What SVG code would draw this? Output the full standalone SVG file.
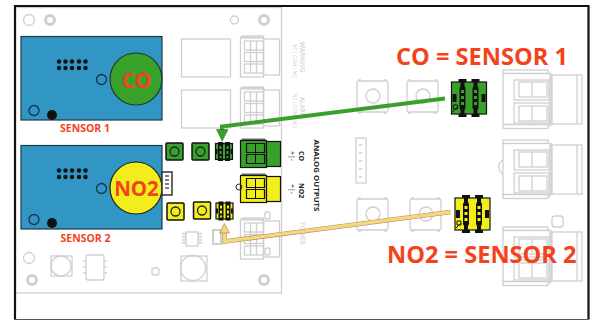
<svg xmlns="http://www.w3.org/2000/svg" width="593" height="320" viewBox="0 0 593 320">
<style>
.g{fill:none;stroke:#cfcfcf;stroke-width:1.3}
.gw{fill:#fff;stroke:#cfcfcf;stroke-width:1.3}
.sb{fill:#3296c4;stroke:#1c3a48;stroke-width:1.2}
.ring{fill:none;stroke:#14344a;stroke-width:1.3}
.blk{fill:#111}
.lbl{font-family:"Open Sans","Liberation Sans",sans-serif;font-weight:700;fill:#f4431c}
.sm{font-family:"Open Sans","Liberation Sans",sans-serif;font-weight:700;fill:#222;font-size:7px}
.lt{font-family:"Open Sans","Liberation Sans",sans-serif;fill:#c9c9c9;font-size:6.5px}
.lt2{font-family:"Open Sans","Liberation Sans",sans-serif;fill:#c9c9c9;font-size:4.6px}
.fg{fill:#39a02c}
.fy{fill:#f1ee1c}
</style>
<defs>
<g id="bigTerm">
<rect class="g" x="0" y="0" width="45" height="3.500"/>
<rect class="gw" x="0" y="3.500" width="48" height="51"/>
<rect class="g" x="0" y="54.500" width="45" height="4"/>
<rect class="gw" x="49" y="5" width="30" height="49"/>
<path class="g" d="M74 5V54M47 3V57" stroke-width="2"/>
<rect class="g" x="11" y="10" width="35" height="20"/>
<rect class="g" x="16" y="12" width="28" height="15"/>
<path class="g" d="M29 12V27"/>
<rect class="g" x="11" y="33" width="35" height="20"/>
<rect class="g" x="16" y="36" width="28" height="15"/>
<path class="g" d="M29 36V51"/>
</g>
<g id="btn">
<rect class="g" x="0" y="1" width="31" height="31" rx="1.500"/>
<path class="g" d="M1 0h3M27 0h3M1 33h3M27 33h3" stroke-width="2"/>
<circle class="g" cx="16" cy="16" r="7"/>
</g>
<g id="sTerm">
<rect class="g" x="0" y="1" width="23" height="40"/>
<rect class="g" x="2" y="0" width="21" height="2"/>
<rect class="g" x="23" y="3" width="16" height="36"/>
<rect class="g" x="4" y="5" width="19" height="9"/>
<rect class="g" x="4" y="16.500" width="19" height="9"/>
<rect class="g" x="4" y="28" width="19" height="9"/>
<path class="g" d="M10 5v32M16 5v32"/>
</g>
<g id="sw">
<rect x="0" y="0" width="17" height="17" rx="1" stroke="#111" stroke-width="1.500"/>
<circle cx="8.500" cy="8.500" r="4.500" fill="none" stroke="#222" stroke-width="1.300"/>
</g>
<g id="jumpL">
<rect x="0" y="1.500" width="17" height="16" stroke="#111" stroke-width="1.200"/>
<path d="M2.500 0h5v19h-5zM9.500 0h5v19h-5z" fill="#111"/>
<path d="M4 4h2v3h-2zM4 9h2v3h-2zM4 14h2v2h-2zM11 4h2v3h-2zM11 9h2v3h-2zM11 14h2v2h-2z"/>
<path d="M0 7h2v5h-2zM15 7h2v5h-2z" fill="#111"/>
</g>
<g id="jumpR">
<rect x="0" y="3" width="35" height="32" stroke="#111" stroke-width="1.200"/>
<path d="M7 0h8v3h-2v4l1 2v20l-1 2v4h2v3h-8v-3h2v-4l-1-2v-20l1-2v-4h-2zM20 0h8v3h-2v4l1 2v20l-1 2v4h2v3h-8v-3h2v-4l-1-2v-20l1-2v-4h-2z" fill="#111"/>
<path d="M9.500 11h3v3h-3zM9.500 17h3v3h-3zM9.500 23h3v3h-3zM22.500 11h3v3h-3zM22.500 17h3v3h-3zM22.500 23h3v3h-3z"/>
<rect x="1" y="15" width="4" height="8" fill="#111"/>
<rect x="30" y="15" width="4" height="8" fill="#111"/>
<path d="M1 33l5-5M2 26h4v4h-4z" stroke="#111" fill="none"/>
</g>
<g id="cTerm">
<rect x="1" y="0" width="24" height="3" fill="#666"/>
<rect x="0" y="2" width="26" height="27" stroke="#111" stroke-width="1.200"/>
<rect x="26" y="3" width="14" height="25" stroke="#111" stroke-width="1.200"/>
<path d="M6 5h18v9h-18zM6 16h18v9h-18z" fill="none" stroke="#111" stroke-width="1.200"/>
<path d="M15 5v20" stroke="#111"/>
</g>
</defs>

<rect id="bg" width="593" height="320" fill="#fff"/>

<g id="board">
<rect class="g" x="15.500" y="7.500" width="266" height="285.500" stroke-width="1.500"/>
<circle class="g" cx="29" cy="20" r="5.500"/>
<circle cx="50" cy="20" r="4.500" fill="#fff" stroke="#cfcfcf" stroke-width="3"/>
<circle class="g" cx="234.500" cy="20" r="4"/>
<circle cx="264" cy="20" r="4.500" fill="#fff" stroke="#cfcfcf" stroke-width="3"/>
<circle class="g" cx="29" cy="258" r="5.500"/>
<circle cx="32" cy="280" r="4.500" fill="#fff" stroke="#cfcfcf" stroke-width="3"/>
<circle cx="264" cy="280" r="4.500" fill="#fff" stroke="#cfcfcf" stroke-width="3"/>
<rect class="g" x="181.500" y="39" width="49" height="38"/>
<rect class="g" x="181.500" y="90" width="49" height="38"/>
<use href="#sTerm" x="240.500" y="36"/>
<use href="#sTerm" x="240.500" y="87"/>
<rect class="g" x="51" y="256" width="21" height="20"/>
<circle class="g" cx="61" cy="266" r="10"/>
<rect class="g" x="86" y="255" width="18" height="25" rx="2"/>
<path class="g" d="M83 261h3M83 267h3M83 273h3M104 261h3M104 267h3M104 273h3"/>
<rect class="g" x="152" y="268" width="7" height="7" rx="2" stroke-width="2"/>
<rect class="g" x="181" y="256" width="26" height="25"/>
<circle class="g" cx="193" cy="268" r="12.500"/>
<rect class="g" x="186" y="232" width="12" height="14"/>
<path class="g" d="M182 234h4M182 237h4M182 240h4M182 243h4M198 234h4M198 237h4M198 240h4M198 243h4"/>
<rect x="213" y="230" width="8" height="14" fill="#fff" stroke="#cfcfcf" stroke-width="2"/>
<use href="#sTerm" x="240.500" y="218"/>
<rect class="g" x="265" y="212" width="5" height="7" rx="2"/>
<rect class="g" x="265" y="248" width="5" height="7" rx="2"/>
<use href="#bigTerm" x="503" y="70"/>
<use href="#bigTerm" x="503" y="140"/>
<use href="#bigTerm" x="503" y="227"/>
<rect class="g" x="552" y="216" width="11" height="11" rx="3"/>
<path class="g" d="M503 160a8 8 0 0 0 0 14"/>
<use href="#btn" x="357" y="80"/>
<use href="#btn" x="407" y="80"/>
<use href="#btn" x="357" y="198"/>
<use href="#btn" x="410" y="198"/>
<rect class="gw" x="356" y="138" width="10" height="45" stroke-width="1.500"/>
<path class="g" d="M359 145h3M359 153h3M359 161h3M359 169h3M359 177h3" stroke-width="2"/>
<text class="lt" transform="translate(299.500 42) rotate(90)">WARNING</text>
<text class="lt2" transform="translate(293 44) rotate(90)">NC | COM | NO</text>
<text class="lt" transform="translate(299.500 97) rotate(90)">ALARM</text>
<text class="lt2" transform="translate(293 94) rotate(90)">NC | COM | NO</text>
<text class="lt" transform="translate(299.500 222) rotate(90)">POWER</text>
</g>

<g id="analog-labels">
<text class="sm" transform="translate(314 139.500) rotate(90) scale(1.120 1)">ANALOG OUTPUTS</text>
<text class="sm" transform="translate(299 151) rotate(90)">CO</text>
<text class="sm" transform="translate(299 183) rotate(90)">NO2</text>
<text class="sm" style="font-weight:400" transform="translate(290 151) rotate(90)">+|-</text>
<text class="sm" style="font-weight:400" transform="translate(290 184) rotate(90)">+|-</text>
</g>

<g id="sensor1">
<rect class="sb" x="21" y="36.500" width="141" height="83.500"/>
<g class="blk">
<circle cx="59" cy="61.500" r="2.200"/><circle cx="65.500" cy="61.500" r="2.200"/><circle cx="72" cy="61.500" r="2.200"/><circle cx="79" cy="61.500" r="2.200"/><circle cx="85.500" cy="61.500" r="2.200"/>
<circle cx="59" cy="68" r="2.200"/><circle cx="65.500" cy="68" r="2.200"/><circle cx="72" cy="68" r="2.200"/><circle cx="79" cy="68" r="2.200"/><circle cx="85.500" cy="68" r="2.200"/>
<circle cx="52" cy="115" r="5"/>
</g>
<circle class="ring" cx="101.500" cy="79.500" r="5"/>
<circle class="ring" cx="34" cy="110.500" r="5"/>
<circle cx="136" cy="79" r="26" fill="#39a02c" stroke="#1c3a28" stroke-width="1.200"/>
<text class="lbl" x="136.500" y="88" font-size="21" text-anchor="middle">CO</text>
<text class="lbl" x="85" y="132" font-size="10.500" text-anchor="middle">SENSOR 1</text>
</g>

<g id="sensor2">
<rect class="sb" x="21" y="145.500" width="141" height="83.500"/>
<g class="blk">
<circle cx="59" cy="170.500" r="2.200"/><circle cx="65.500" cy="170.500" r="2.200"/><circle cx="72" cy="170.500" r="2.200"/><circle cx="79" cy="170.500" r="2.200"/><circle cx="85.500" cy="170.500" r="2.200"/>
<circle cx="59" cy="177" r="2.200"/><circle cx="65.500" cy="177" r="2.200"/><circle cx="72" cy="177" r="2.200"/><circle cx="79" cy="177" r="2.200"/><circle cx="85.500" cy="177" r="2.200"/>
<circle cx="52" cy="223" r="5"/>
</g>
<circle class="ring" cx="101.500" cy="188.500" r="5"/>
<circle class="ring" cx="34" cy="219.500" r="5"/>
<circle cx="136" cy="188" r="26" fill="#f1ee1c" stroke="#222" stroke-width="1.200"/>
<text class="lbl" x="136.500" y="195.500" font-size="20.500" text-anchor="middle">NO2</text>
<text class="lbl" x="85.500" y="242" font-size="10.500" text-anchor="middle">SENSOR 2</text>
<rect x="162" y="172" width="10" height="23" fill="#fff" stroke="#333" stroke-width="1.500"/>
<path d="M165 176h4M165 180h4M165 184h4M165 188h4" stroke="#555" stroke-width="1.500"/>
</g>

<g id="co-parts">
<use href="#sw" class="fg" x="166" y="143"/>
<use href="#sw" class="fg" x="192" y="143"/>
<use href="#jumpL" class="fg" x="215.500" y="142"/>
<use href="#cTerm" class="fg" x="240.500" y="138.500"/>
<use href="#jumpR" class="fg" x="451.500" y="79"/>
</g>

<g id="no2-parts">
<use href="#sw" class="fy" x="167" y="203"/>
<use href="#sw" class="fy" x="193.500" y="202"/>
<use href="#jumpL" class="fy" x="216" y="201.500"/>
<use href="#cTerm" class="fy" x="240.500" y="173.500"/>
<circle cx="239" cy="187" r="3" fill="none" stroke="#333"/>
<use href="#jumpR" class="fy" x="455" y="195"/>
</g>

<g id="connectors">
<path d="M445 98.500 222 126.500V131" fill="none" stroke="#39a02c" stroke-width="4"/>
<path d="M216.500 129.500H228L222.200 141Z" fill="#39a02c" stroke="#2d7a24" stroke-width=".6"/>
<path d="M450.500 212 224.500 241.500V231" fill="none" stroke="#a8945f" stroke-width="4.500"/>
<path d="M450.500 212 224.500 241.500V231" fill="none" stroke="#f9d57e" stroke-width="3.400"/>
<path d="M219.500 233H229.500L224.500 223.500Z" fill="#f9d57e" stroke="#a8945f" stroke-width=".8"/>
</g>

<g id="callouts">
<text class="lbl" x="396" y="64.500" font-size="23.600">CO = SENSOR 1</text>
<text class="lbl" x="387" y="262.500" font-size="23.600">NO2 = SENSOR 2</text>
</g>

<g id="frame">
<path d="M15 319.500V6H588.500V319.500" fill="none" stroke="#111" stroke-width="2.200"/>
<path d="M14 319.500H588" fill="none" stroke="#555" stroke-width="1"/>
</g>
</svg>
